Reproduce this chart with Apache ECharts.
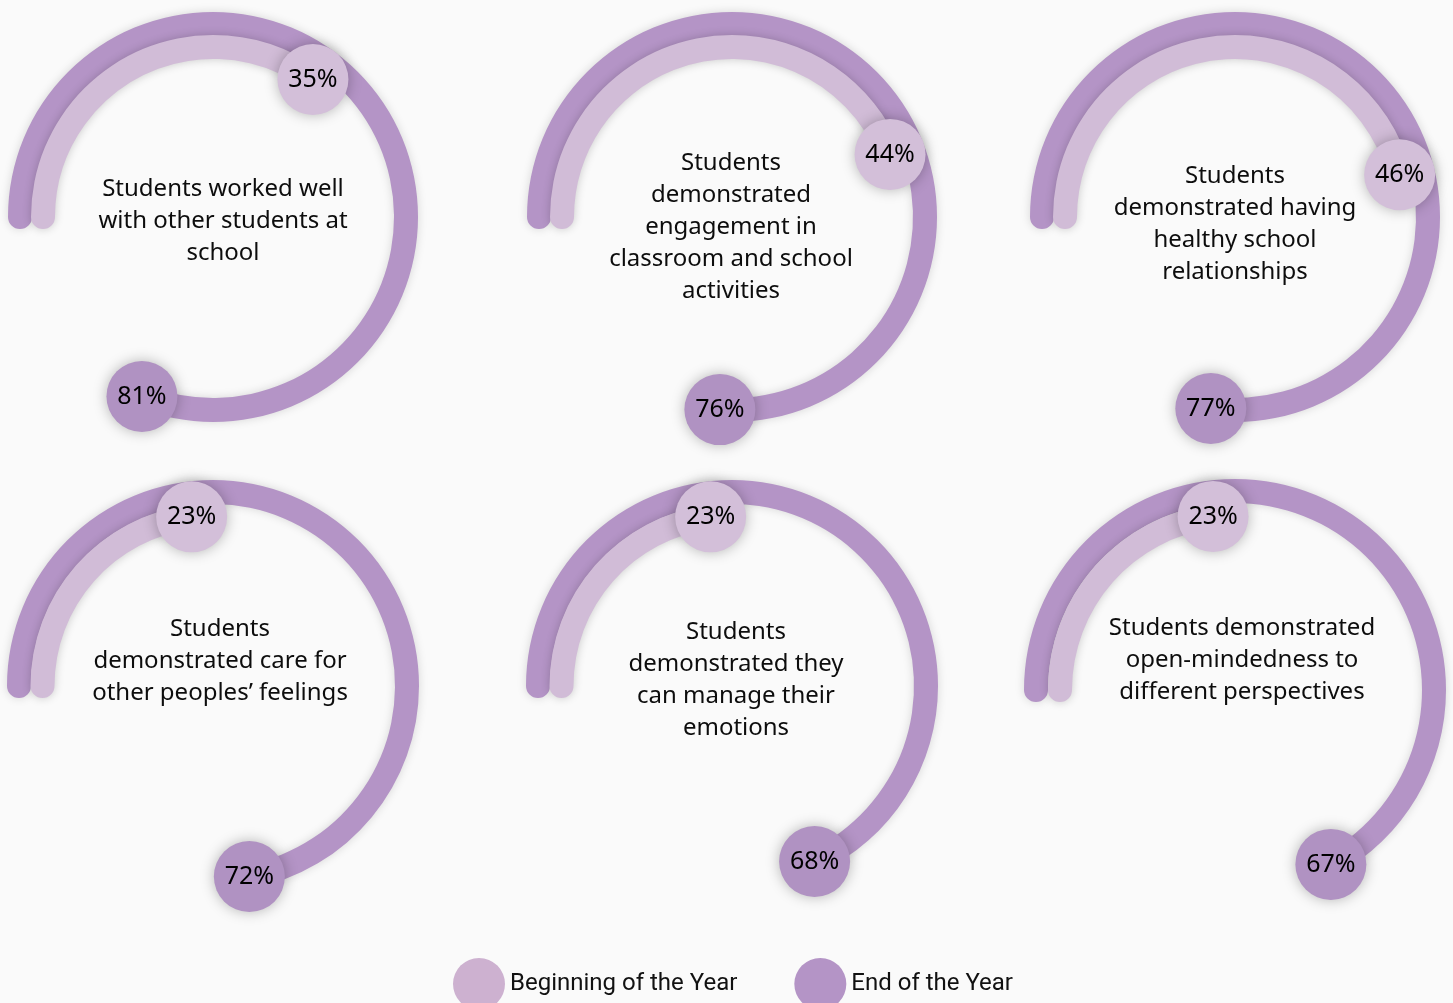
<!DOCTYPE html>
<html>
<head>
<meta charset="utf-8">
<script src="https://cdn.jsdelivr.net/npm/echarts@6/dist/echarts.min.js"></script>
<style>
html,body{margin:0;padding:0;background:#fafafa;}
#chart{width:1453px;height:1003px;}
</style>
</head>
<body>
<div id="chart"></div>
<script>
// ---- data ----
const panelTitles = [
  'Students worked well\nwith other students at\nschool',
  'Students\ndemonstrated\nengagement in\nclassroom and school\nactivities',
  'Students\ndemonstrated having\nhealthy school\nrelationships',
  'Students\ndemonstrated care for\nother peoples\u2019 feelings',
  'Students\ndemonstrated they\ncan manage their\nemotions',
  'Students demonstrated\nopen-mindedness to\ndi\uFB00erent perspectives'
];
const beginningOfYear = [35, 44, 46, 23, 23, 23];
const endOfYear = [81, 76, 77, 72, 68, 67];
const seriesNames = ['Beginning of the Year', 'End of the Year'];
const ringCategories = ['Beginning', 'End'];

// ---- layout (positions / sizes) ----
const centers = [[213, 217], [732, 217], [1235, 217], [213, 686], [732, 686], [1235, 690]];
const ringRadii = [[170, 193], [170, 193], [170, 193], [170.5, 194], [170.5, 194], [175, 199]]; // centre-lines [inner, outer]
const textPos = [[223, 221], [731, 227], [1235, 224], [220, 661], [736, 680], [1242, 660]];
const RING_W = 24;

const COLOR_END = '#b494c6';
const COLOR_BEGIN = '#d1bcd7';
const MARK_END = '#b092c2';
const MARK_BEGIN = '#d3bfd9';
const FONT = '"Noto Sans", sans-serif';

function ring(name, i, radius, value, color, shadow) {
  return {
    type: 'gauge', name: name, center: centers[i], radius: radius + RING_W / 2,
    startAngle: 180, endAngle: -180, clockwise: true, min: 0, max: 100, z: 2,
    progress: {
      show: true, width: RING_W, roundCap: true,
      itemStyle: { color: color, shadowBlur: 10, shadowColor: shadow }
    },
    axisLine: { show: false }, axisTick: { show: false }, splitLine: { show: false },
    axisLabel: { show: false }, pointer: { show: false }, anchor: { show: false },
    title: { show: false }, detail: { show: false },
    data: [{ value: value, name: name }], silent: true, animation: false
  };
}

const polar = [], angleAxis = [], radiusAxis = [], series = [], graphic = [];
for (let i = 0; i < 6; i++) {
  const ri = ringRadii[i][0], ro = ringRadii[i][1], b = ro - ri;
  polar.push({ center: centers[i], radius: [ri - b / 2, ro + b / 2] });
  angleAxis.push({ polarIndex: i, type: 'value', min: 0, max: 100, startAngle: 180, clockwise: true, show: false });
  radiusAxis.push({ polarIndex: i, type: 'category', data: ringCategories, show: false });
  series.push(ring(seriesNames[1], i, ro, endOfYear[i], COLOR_END, 'rgba(0,0,0,0.15)'));
  series.push(ring(seriesNames[0], i, ri, beginningOfYear[i], COLOR_BEGIN, 'rgba(0,0,0,0.2)'));
  series.push({
    type: 'scatter', coordinateSystem: 'polar', polarIndex: i, z: 5,
    symbol: 'circle', symbolSize: 71,
    data: [
      { value: [0, beginningOfYear[i]], itemStyle: { color: MARK_BEGIN } },
      { value: [1, endOfYear[i]], itemStyle: { color: MARK_END } }
    ],
    itemStyle: { opacity: 1, shadowBlur: 14, shadowColor: 'rgba(0,0,0,0.28)' },
    label: {
      show: true, position: 'inside', color: '#000', fontSize: 25, fontFamily: FONT,
      formatter: p => p.value[1] + '%'
    },
    emphasis: { disabled: true }, silent: true
  });
  graphic.push({
    type: 'text', x: textPos[i][0], y: textPos[i][1], z: 10,
    style: {
      text: panelTitles[i], align: 'center', verticalAlign: 'middle',
      fontSize: 24, fontFamily: FONT, lineHeight: 32, fill: '#0d0d0d'
    }
  });
}

const chart = echarts.init(document.getElementById('chart'));
chart.setOption({
  backgroundColor: '#fafafa',
  animation: false,
  polar, angleAxis, radiusAxis, series, graphic,
  legend: {
    data: [
      { name: seriesNames[0], itemStyle: { color: '#cdb1d0' } },
      { name: seriesNames[1], itemStyle: { color: '#b494c6' } }
    ],
    left: 448, top: 953, itemWidth: 52, itemHeight: 52, itemGap: 57,
    icon: 'circle', selectedMode: false,
    textStyle: { fontFamily: 'Roboto', fontSize: 24, color: '#111' }
  }
});
</script>
</body>
</html>
